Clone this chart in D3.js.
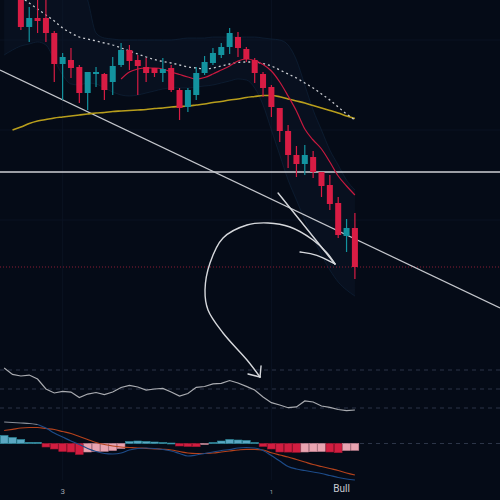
<!DOCTYPE html>
<html><head><meta charset="utf-8">
<script src="https://cdn.jsdelivr.net/npm/d3@7"></script>
<style>html,body{margin:0;padding:0;background:#050b17;}svg{display:block;}</style>
</head><body>
<svg id="c" width="500" height="500"></svg>
<script>
// ---------- DATA (43 bars, index 0..42; candles start at index 2) ----------
const open  = [null,null,305,273,282,282,267,236,240,233,207,226,226,218,235,250,240,233,232,227,232,210,193,205,227,237,245,253,263,251,240,226,213,192,169,145,136,143,128,115,97,64,72];
const high  = [null,null,310,293,300,302,269,247,252,235,228,233,227,243,257,255,245,242,232,242,235,212,212,233,244,252,257,272,268,253,242,228,215,192,175,154,155,149,128,125,103,81,87];
const low   = [null,null,270,258,267,258,218,200,222,197,190,213,200,205,233,230,205,218,223,218,208,180,188,200,225,235,242,246,243,238,217,203,183,158,132,123,125,122,103,90,62,48,21];
const close = [null,null,273,282,279,267,236,243,232,207,228,228,210,234,250,239,234,227,227,231,210,192,210,227,238,247,253,267,252,241,227,212,193,169,145,136,145,128,114,96,65,72,33];

const smaSlow = [null,null,303,297,291,285,279,272,267,263,261,259,257,255,252,249,246,243,240.5,238.5,237,235,233,232,231,232,234,236,237.5,238,238,236.5,234,230,226,222,217,212,206,200,193,186,180];
const maLong  = [null,170,173,176.5,179,180.5,182,183,184,185,186,187,187.5,188.5,189,189.5,190,190.5,191.5,192,193,193.5,194,195,196,197.5,198.5,200,201,202.5,203.5,204.5,204.5,203.3,201,199,197,194.5,192,189.5,187,184,181.5];
const emaFast = [null,null,null,null,null,null,null,null,null,null,null,null,null,null,221,228,231,232,232,231,228,225.5,223,221,222.5,226,230,234,239,241,239.5,235.5,229,218,204,189,171,160,151,138,124,114,105];
const bandUpper = [340,340,338,335,332,330,328,326,324,320,300,267,262,261,260,260,260,260,260,260,260,261,262,262,262,263,263,263,263,263,263,262,261,260,255,240,215,190,170,150,135,120,110];
const bandLower = [245,250,254,256,258,255,240,225,216,215,217,216,212,208,205,204,205,207,209,211,212,212,212,213,214,215,217,219,221,220,212,195,170,145,120,100,80,62,45,30,18,10,4];

const rsi = [72.1,65.3,63.7,64.7,60.5,50,45.8,47.4,46.8,41.1,44.7,46.3,44.2,46.8,51.6,53.7,52.1,48.9,50,50.7,46.8,42.6,45.3,51.8,52.6,55.3,56,58.9,56.3,52.8,48.9,41.6,35.6,33.2,30.3,31.1,37.4,36.3,32.1,30.7,28.4,27.2,27.9];
const rsiLevels = [70,50,30];

const macd   = [2.15,2.1,2.05,2.0,1.9,1.55,1.05,0.65,0.25,-0.1,-0.5,-0.8,-1.0,-1.05,-0.95,-0.65,-0.5,-0.45,-0.5,-0.6,-0.75,-1.0,-1.25,-1.15,-1.0,-0.85,-0.7,-0.6,-0.45,-0.4,-0.45,-0.7,-1.2,-1.75,-2.3,-2.55,-2.7,-2.85,-3.0,-3.2,-3.4,-3.55,-3.65];
const signal = [1.3,1.42,1.55,1.6,1.6,1.5,1.4,1.2,1.0,0.7,0.4,0.1,-0.1,-0.25,-0.35,-0.4,-0.45,-0.48,-0.53,-0.58,-0.65,-0.8,-0.95,-1.0,-1.0,-0.95,-0.85,-0.75,-0.65,-0.58,-0.58,-0.65,-0.93,-1.15,-1.35,-1.6,-1.85,-2.1,-2.3,-2.5,-2.7,-2.95,-3.15];
const hist   = [0.8,0.6,0.4,0.12,0.12,-0.35,-0.55,-0.8,-0.85,-1.1,-0.85,-0.8,-0.78,-0.7,-0.5,0.2,0.25,0.2,0.15,0.1,0.05,-0.25,-0.3,-0.32,-0.1,0.1,0.25,0.4,0.35,0.3,0.1,-0.3,-0.55,-0.85,-0.86,-0.88,-0.85,-0.82,-0.8,-0.85,-0.92,-0.7,-0.68];

const tickLabels = [{i:7, text:"3"}, {i:32, text:"1"}];
const levelMain = 128;     // solid horizontal level (price)
const levelDotted = 33;    // dotted red level (price)
const trendAnchors = [{i:0, p:228}, {i:40, p:69}];
const straightArrow = [{i:32.8, p:107}, {i:39.62, p:36}];
const arrowBarb = [{i:35.43, p:48}, {i:37.4, p:46}, {i:39.62, p:36}];
const curvedArrow = [{i:39.62,p:36},{i:38.66,p:47},{i:36.99,p:60},{i:34.23,p:73},{i:31.6,p:77},{i:29.08,p:75},{i:26.21,p:62},{i:24.65,p:37},{i:24.05,p:10},{i:24.41,p:-10},{i:26.21,p:-33},{i:29.08,p:-60},{i:30.64,p:-77}];
const curvedHead = [[{i:29.2,p:-74},{i:30.64,p:-77}],[{i:30.76,p:-66},{i:30.64,p:-77}]];
const signalLabel = {i:40.4, text:"Bull"};

// ---------- SCALES ----------
const svg = d3.select("#c");
const x  = d3.scaleLinear().domain([0,42]).range([4.17,354.9]);
const step = x(1)-x(0);
const yP = d3.scaleLinear().domain([0,300]).range([300,0]);
const yR = d3.scaleLinear().domain([0,100]).range([436.5,341.5]);
const yM = d3.scaleLinear().domain([-4,4]).range([483.5,403.5]);
const idx = d3.range(43);

svg.append("rect").attr("width",500).attr("height",500).attr("fill","#050b17");

// faint grid
const grid = svg.append("g").attr("stroke","#0b1322").attr("stroke-width",1);
tickLabels.forEach(t=>grid.append("line").attr("x1",x(t.i)).attr("x2",x(t.i)).attr("y1",0).attr("y2",480));
[260,170,80].forEach(p=>grid.append("line").attr("x1",0).attr("x2",500).attr("y1",yP(p)).attr("y2",yP(p)));

// Bollinger band (very faint)
const bandArea = d3.area().x(i=>x(i)).y0(i=>yP(bandLower[i])).y1(i=>yP(bandUpper[i])).curve(d3.curveMonotoneX);
svg.append("path").datum(idx).attr("d",bandArea).attr("fill","#0c1a2d").attr("fill-opacity",0.4);
["upper","lower"].forEach(k=>{
  const arr = k==="upper"?bandUpper:bandLower;
  svg.append("path").datum(idx).attr("d",d3.line().x(i=>x(i)).y(i=>yP(arr[i])).curve(d3.curveMonotoneX))
    .attr("fill","none").attr("stroke","#132c48").attr("stroke-opacity",0.45).attr("stroke-width",1);
});

// levels
svg.append("line").attr("x1",0).attr("x2",500).attr("y1",yP(levelDotted)).attr("y2",yP(levelDotted))
  .attr("stroke","#8a1c34").attr("stroke-width",1).attr("stroke-dasharray","1,2");
svg.append("line").attr("x1",0).attr("x2",500).attr("y1",yP(levelMain)).attr("y2",yP(levelMain))
  .attr("stroke","#cfd1d6").attr("stroke-width",1.3);

// trendline (extended)
const slope = (trendAnchors[1].p-trendAnchors[0].p)/(trendAnchors[1].i-trendAnchors[0].i);
const iL = x.invert(0), iR = x.invert(500);
svg.append("line").attr("x1",0).attr("y1",yP(trendAnchors[0].p+slope*(iL-trendAnchors[0].i)))
  .attr("x2",500).attr("y2",yP(trendAnchors[0].p+slope*(iR-trendAnchors[0].i)))
  .attr("stroke","#c4c6cc").attr("stroke-width",1.2);

// moving averages
const lineOf = arr => d3.line().defined(i=>arr[i]!=null).x(i=>x(i)).y(i=>yP(arr[i])).curve(d3.curveMonotoneX);
svg.append("path").datum(idx).attr("d",lineOf(maLong)).attr("fill","none").attr("stroke","#b89e1c").attr("stroke-width",1.6);
svg.append("path").datum(idx).attr("d",lineOf(smaSlow)).attr("fill","none").attr("stroke","#c9cbd0").attr("stroke-width",1.3).attr("stroke-dasharray","2,3");
svg.append("path").datum(idx).attr("d",lineOf(emaFast)).attr("fill","none").attr("stroke","#c8193f").attr("stroke-width",1.2);

// candles
const cIdx = idx.filter(i=>open[i]!=null);
const up = i=>close[i]>=open[i];
const cg = svg.append("g");
cg.selectAll("line.w").data(cIdx).join("line")
  .attr("x1",i=>x(i)).attr("x2",i=>x(i)).attr("y1",i=>yP(high[i])).attr("y2",i=>yP(low[i]))
  .attr("stroke",i=>up(i)?"#13939f":"#d81c44").attr("stroke-width",1.2);
const bw = step*0.72;
cg.selectAll("rect.b").data(cIdx).join("rect")
  .attr("x",i=>x(i)-bw/2).attr("width",bw)
  .attr("y",i=>yP(Math.max(open[i],close[i])))
  .attr("height",i=>Math.max(1,Math.abs(yP(open[i])-yP(close[i]))))
  .attr("fill",i=>up(i)?"#13939f":"#d81c44");

// arrows
const pt = d=>[x(d.i), yP(d.p)];
const aStyle = s=>s.attr("fill","none").attr("stroke","#d6d8dc").attr("stroke-width",1.4).attr("stroke-linecap","round");
aStyle(svg.append("path").attr("d",d3.line()(straightArrow.map(pt))));
aStyle(svg.append("path").attr("d",d3.line().curve(d3.curveBasis)(arrowBarb.map(pt))));
aStyle(svg.append("path").attr("d",d3.line().curve(d3.curveCatmullRom)(curvedArrow.map(pt))));
curvedHead.forEach(h=>aStyle(svg.append("path").attr("d",d3.line()(h.map(pt)))));

// RSI panel
rsiLevels.forEach(v=>svg.append("line").attr("x1",0).attr("x2",500).attr("y1",yR(v)).attr("y2",yR(v))
  .attr("stroke","#2c3548").attr("stroke-width",1).attr("stroke-dasharray","4,4"));
svg.append("path").datum(idx).attr("d",d3.line().x(i=>x(i)).y(i=>yR(rsi[i])))
  .attr("fill","none").attr("stroke","#a9abb0").attr("stroke-width",1.2);

// MACD panel
svg.append("line").attr("x1",0).attr("x2",500).attr("y1",yM(0)).attr("y2",yM(0))
  .attr("stroke","#2c3548").attr("stroke-width",1).attr("stroke-dasharray","4,4");
const histColor = i=> hist[i]>=0 ? ["#5ba8c3","#2a8a9c"] : (i>0 && hist[i]>hist[i-1] ? ["#e9a4b1","#c98594"] : ["#d21d40","#a3152f"]);
svg.append("g").selectAll("rect").data(idx).join("rect")
  .attr("x",i=>x(i)-step/2+0.3).attr("width",step-0.6)
  .attr("y",i=>Math.min(yM(0),yM(hist[i]))).attr("height",i=>Math.max(1,Math.abs(yM(hist[i])-yM(0))))
  .attr("fill",i=>histColor(i)[0]).attr("stroke",i=>histColor(i)[1]).attr("stroke-width",0.6);
const mLine = arr=>d3.line().x(i=>x(i)).y(i=>yM(arr[i])).curve(d3.curveMonotoneX);
svg.append("path").datum(idx).attr("d",mLine(signal)).attr("fill","none").attr("stroke","#b5421c").attr("stroke-width",1.2);
svg.append("path").datum(idx.filter(i=>i>=4)).attr("d",mLine(macd)).attr("fill","none").attr("stroke","#1d4b88").attr("stroke-width",1.2);
svg.append("path").datum(idx.filter(i=>i<=4)).attr("d",mLine(macd)).attr("fill","none").attr("stroke","#8b909a").attr("stroke-width",1.2);

// bottom labels
tickLabels.forEach(t=>svg.append("text").attr("x",x(t.i)).attr("y",494).attr("text-anchor","middle")
  .attr("font-family","Roboto, sans-serif").attr("font-size",t.text==="1"?6:8).attr("fill","#9ea3ad").text(t.text));
svg.append("text").attr("x",x(signalLabel.i)).attr("y",492).attr("text-anchor","middle")
  .attr("font-family","Roboto, sans-serif").attr("font-size",10).attr("fill","#c9ccd2").text(signalLabel.text);
</script>
</body></html>
